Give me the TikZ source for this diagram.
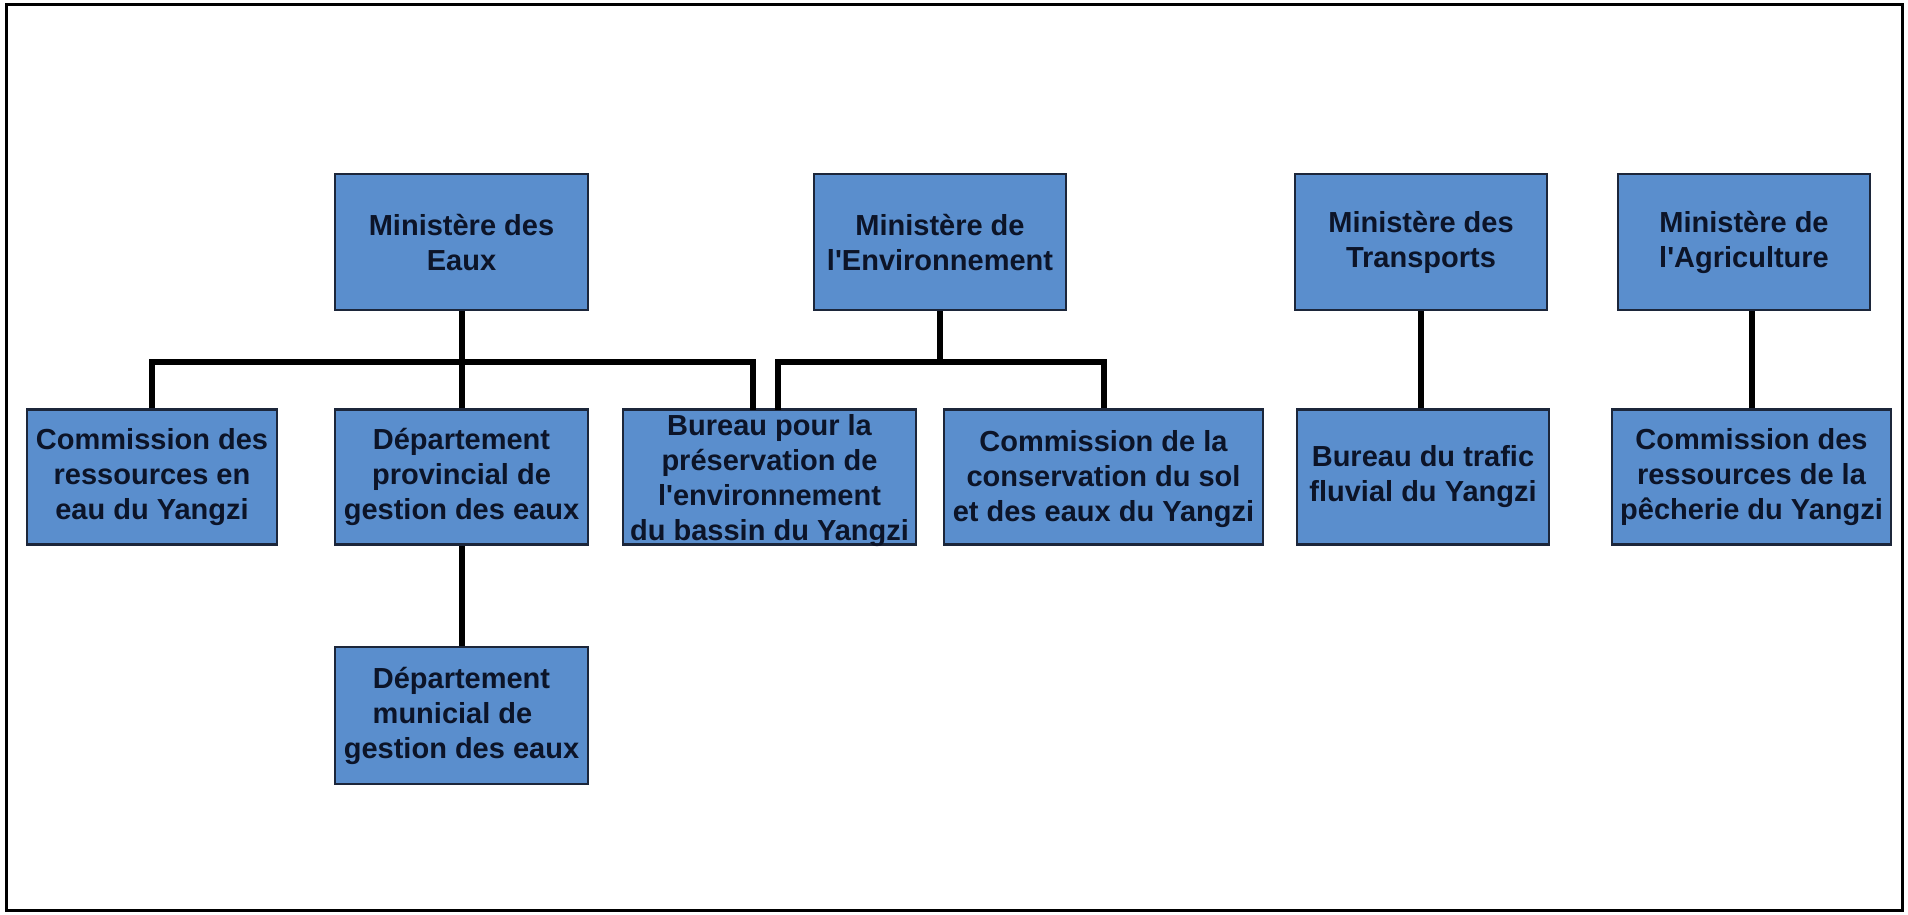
\documentclass[tikz,border=0pt]{standalone}
\usepackage{fontspec}
\setmainfont{Liberation Sans}[Ligatures=TeXOff]
\definecolor{boxfill}{RGB}{90,142,205}
\definecolor{boxline}{RGB}{28,38,58}
\definecolor{boxtext}{RGB}{12,20,40}
\begin{document}
\begin{tikzpicture}[x=1pt,y=-1pt,
  boxlabel/.style={inner sep=0pt, align=center, text=boxtext,
    font=\fontsize{29}{35}\selectfont\bfseries},
  orgbox/.style={boxlabel, draw=boxline, line width=2.5pt, fill=boxfill},
  conn/.style={draw=black, line width=6pt, line join=miter}]
\useasboundingbox (0,0) rectangle (1908,914);
\draw[line width=3pt] (6,4) rectangle (1902,910);
% top row
\node[orgbox, minimum width=253, minimum height=136] (eaux) at (461.5,242) {Ministère des\\Eaux};
\node[orgbox, minimum width=252, minimum height=136] (env) at (940,242) {Ministère de\\l'Environnement};
\node[orgbox, minimum width=252, minimum height=136] (trans) at (1421,242) {Ministère des\\Transports};
\node[orgbox, minimum width=252, minimum height=136] (agr) at (1744,242) {Ministère de\\l'Agriculture};
% middle row
\node[orgbox, minimum width=250, minimum height=135] (ceau) at (152,477) {Commission des\\ressources en\\eau du Yangzi};
\node[orgbox, minimum width=253, minimum height=135] (prov) at (461.5,477) {Département\\provincial de\\gestion des eaux};
\node[orgbox, minimum width=293, minimum height=135] (bur) at (769.5,477) {};
\node[boxlabel] (burtext) at ([yshift=-4pt]bur.center) {Bureau pour la\\préservation de\\l'environnement\\du bassin du Yangzi};
\node[orgbox, minimum width=319, minimum height=135] (csol) at (1103.5,477) {};
\node[boxlabel] (csoltext) at ([yshift=-2pt]csol.center) {Commission de la\\conservation du sol\\et des eaux du Yangzi};
\node[orgbox, minimum width=252, minimum height=135] (traf) at (1423,477) {Bureau du trafic\\fluvial du Yangzi};
\node[orgbox, minimum width=279, minimum height=135] (cpeche) at (1751.5,477) {Commission des\\ressources de la\\pêcherie du Yangzi};
% bottom
\node[orgbox, minimum width=253, minimum height=137] (muni) at (461.5,715.5) {Département\\municial de\rule{0.62em}{0pt}\\gestion des eaux};
% connectors
\coordinate (jE) at (461.5,362);
\coordinate (bE) at (753,409.5);
\coordinate (jV) at (940,362);
\coordinate (bV) at (777.5,409.5);
\draw[conn] (eaux.south) -- (jE);
\draw[conn] (ceau.north) |- (jE) -| (bE);
\draw[conn] (jE) -- (prov.north);
\draw[conn] (env.south) -- (jV);
\draw[conn] (bV) |- (jV) -| (csol.north);
\draw[conn] (trans.south) -- (trans.south |- traf.north);
\draw[conn] (cpeche.north) -- (cpeche.north |- agr.south);
\draw[conn] (prov.south) -- (muni.north);
\end{tikzpicture}
\end{document}
